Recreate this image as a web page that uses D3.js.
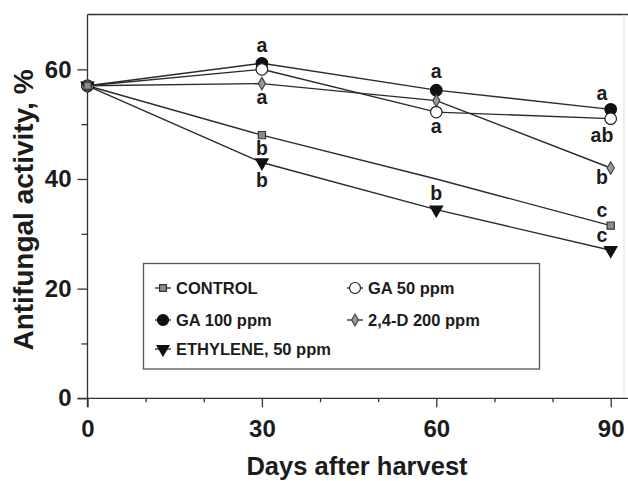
<!DOCTYPE html>
<html>
<head>
<meta charset="utf-8">
<script src="https://cdn.jsdelivr.net/npm/d3@7"></script>
<style>
  body { margin: 0; background: #fff; }
  svg { display: block; font-family: "Liberation Sans", Arial, sans-serif; font-weight: bold; }
  .axis text { fill: #1c1c1c; font-size: 24px; font-weight: bold; }
  .axis path, .axis line { stroke: #333; stroke-width: 1.3; }
</style>
</head>
<body>
<div id="chart"></div>
<script>
// days after harvest
var days = [0, 30, 60, 90];

// antifungal activity, %
var control = [57, 48, 40, 31.5];
var ga50 = [57, 60, 52.2, 51];
var ga100 = [57, 61.1, 56.2, 52.7];
var d24 = [57, 57.4, 54.3, 42];
var ethylene = [57, 43, 34.4, 27];

var seriesNames = ["CONTROL", "GA 50 ppm", "GA 100 ppm", "2,4-D 200 ppm", "ETHYLENE, 50 ppm"];

var xTicks = [0, 30, 60, 90];
var xMinor = [10, 20, 40, 50, 70, 80];
var yTicks = [0, 20, 40, 60];
var yMinor = [10, 30, 50];

// significance letters: day, value where letter sits, text
var letterDays = [30, 30, 30, 30, 60, 60, 60, 88.5, 88.5, 88.5, 88.5, 88.5];
var letterVals = [64.4, 55.0, 45.6, 39.8, 59.6, 49.7, 37.5, 55.6, 48.0, 40.4, 34.3, 29.8];
var letterText = ["a", "a", "b", "b", "a", "a", "b", "a", "ab", "b", "c", "c"];

var width = 628, height = 481;
var svg = d3.select("#chart").append("svg")
  .attr("width", width)
  .attr("height", height);

var x = d3.scaleLinear().domain([0, 90]).range([87.5, 610.7]);
var y = d3.scaleLinear().domain([0, 70]).range([398.3, 14.5]);

// frame top + faint right edge
svg.append("line")
  .attr("x1", x(0)).attr("x2", width)
  .attr("y1", y(70)).attr("y2", y(70))
  .attr("stroke", "#333").attr("stroke-width", 1.6);
svg.append("line")
  .attr("x1", 624).attr("x2", 624)
  .attr("y1", y(70)).attr("y2", y(0))
  .attr("stroke", "#ddd").attr("stroke-width", 1);

// minor ticks
svg.append("g").attr("class", "axis")
  .attr("transform", `translate(${x(0)},0)`)
  .call(d3.axisLeft(y).tickValues(yMinor).tickSize(6).tickFormat(""))
  .select(".domain").remove();
svg.append("g").attr("class", "axis")
  .attr("transform", `translate(0,${y(0)})`)
  .call(d3.axisBottom(x).tickValues(xMinor).tickSize(4).tickFormat(""))
  .select(".domain").remove();

// main axes
var yAxis = svg.append("g").attr("class", "axis")
  .attr("transform", `translate(${x(0)},0)`)
  .call(d3.axisLeft(y).tickValues(yTicks).tickSize(10).tickSizeOuter(0).tickPadding(6));

var xAxis = svg.append("g").attr("class", "axis")
  .attr("transform", `translate(0,${y(0)})`)
  .call(d3.axisBottom(x).tickValues(xTicks).tickSize(9).tickSizeOuter(0).tickPadding(13));
xAxis.select(".domain").attr("d", `M${x(0) - 10},0H${width}`);
yAxis.select(".domain").attr("d", `M0,${y(70)}V${y(0) + 9}`);

// axis titles
svg.append("text")
  .attr("x", 357).attr("y", 475)
  .attr("text-anchor", "middle")
  .attr("font-size", 25.5)
  .attr("fill", "#1c1c1c")
  .text("Days after harvest");

svg.append("text")
  .attr("transform", "translate(33,210) rotate(-90)")
  .attr("text-anchor", "middle")
  .attr("font-size", 28)
  .attr("fill", "#1c1c1c")
  .text("Antifungal activity, %");

// series
var series = [
  { name: seriesNames[0], values: control, symbol: d3.symbolSquare, size: 52, fill: "#8c8c8c", stroke: "#333", rot: 0 },
  { name: seriesNames[1], values: ga50, symbol: d3.symbolCircle, size: 105, fill: "#fff", stroke: "#222", rot: 0 },
  { name: seriesNames[2], values: ga100, symbol: d3.symbolCircle, size: 105, fill: "#111", stroke: "#111", rot: 0 },
  { name: seriesNames[3], values: d24, symbol: d3.symbolDiamond, size: 44, fill: "#9a9a9a", stroke: "#444", rot: 0 },
  { name: seriesNames[4], values: ethylene, symbol: d3.symbolTriangle, size: 68, fill: "#111", stroke: "#111", rot: 180 }
];

var line = d3.line()
  .x(function (d, i) { return x(days[i]); })
  .y(function (d) { return y(d); });

svg.append("g").selectAll("path")
  .data(series)
  .join("path")
  .attr("d", function (s) { return line(s.values); })
  .attr("fill", "none")
  .attr("stroke", "#2a2a2a")
  .attr("stroke-width", 1.4);

// marker draw order: ga100, ga50, ethylene, 2,4-D, control
var order = [2, 1, 4, 3, 0];
order.forEach(function (k) {
  var s = series[k];
  var pts = s.values.map(function (v, i) { return { day: days[i], v: v }; });
  // control has no marker drawn at day 60
  if (k === 0) pts = pts.filter(function (p) { return p.day !== 60; });
  svg.append("g").selectAll("path")
    .data(pts)
    .join("path")
    .attr("d", d3.symbol().type(s.symbol).size(s.size))
    .attr("transform", function (p) { return `translate(${x(p.day)},${y(p.v)}) rotate(${s.rot})`; })
    .attr("fill", s.fill)
    .attr("stroke", s.stroke)
    .attr("stroke-width", 1.2);
});

// significance letters
svg.append("g").selectAll("text")
  .data(letterText)
  .join("text")
  .attr("x", function (d, i) { return x(letterDays[i]); })
  .attr("y", function (d, i) { return y(letterVals[i]); })
  .attr("dy", "0.35em")
  .attr("text-anchor", "middle")
  .attr("font-size", 19.5)
  .attr("fill", "#1c1c1c")
  .text(function (d) { return d; });

// legend
var legend = svg.append("g");
legend.append("rect")
  .attr("x", 143.5).attr("y", 263.5)
  .attr("width", 396).attr("height", 105.5)
  .attr("fill", "#fff")
  .attr("stroke", "#555")
  .attr("stroke-width", 1.3);

var legendCol = [0, 1, 0, 1, 0];
var legendRow = [0, 0, 1, 1, 2];
var colX = [163, 355];
var rowY = [288, 320, 349];

series.forEach(function (s, i) {
  var cx = colX[legendCol[i]], cy = rowY[legendRow[i]];
  var g = legend.append("g").attr("transform", `translate(${cx},${cy})`);
  g.append("line")
    .attr("x1", -8).attr("x2", 8)
    .attr("stroke", "#2a2a2a").attr("stroke-width", 1.3);
  g.append("path")
    .attr("d", d3.symbol().type(s.symbol).size(s.size * 0.9))
    .attr("transform", `rotate(${s.rot})`)
    .attr("fill", s.fill)
    .attr("stroke", s.stroke)
    .attr("stroke-width", 1.2);
  g.append("text")
    .attr("x", 13).attr("dy", "0.36em")
    .attr("font-size", 16.5)
    .attr("fill", "#1c1c1c")
    .text(s.name);
});
</script>
</body>
</html>
